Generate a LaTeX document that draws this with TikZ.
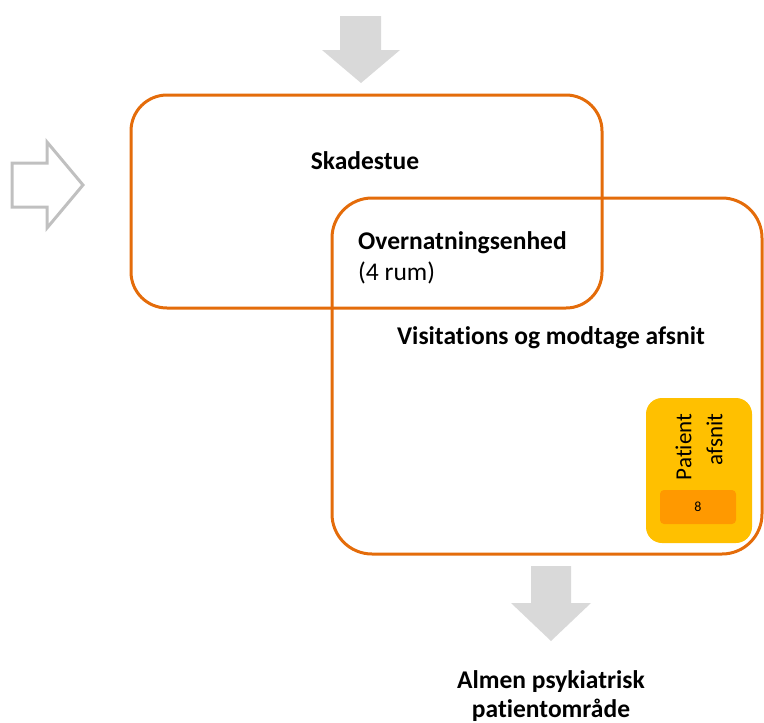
\documentclass[tikz,border=0pt]{standalone}
\usepackage{fontspec}
\setmainfont[Ligatures=NoCommon]{Carlito}
\definecolor{boxorange}{HTML}{E46C0A}
\definecolor{arrowgrey}{HTML}{D9D9D9}
\definecolor{outlinegrey}{HTML}{C0C0C0}
\definecolor{unitgold}{HTML}{FFC000}
\definecolor{unitcount}{HTML}{FF9900}
\begin{document}
\begin{tikzpicture}[x=1pt,y=-1pt,
  areabox/.style={draw=boxorange,line width=3pt,rounded corners=36pt},
  flowarrow/.style={fill=arrowgrey,draw=none},
  label/.style={font=\fontsize{25.5}{29}\selectfont\bfseries,text=black,inner sep=0pt},
  plain/.style={font=\fontsize{25.5}{29}\selectfont,text=black,inner sep=0pt}]
\useasboundingbox (0,0) rectangle (764,723);

% incoming arrow from above
\fill[flowarrow] (340,16) -- (381,16) -- (381,50) -- (400,50) -- (361,83)
  -- (322,50) -- (340,50) -- cycle;
% incoming arrow from the left (outline only)
\draw[draw=outlinegrey,line width=3pt,line join=miter]
  (12,163) -- (47,163) -- (47,142) -- (83,185) -- (47,228) -- (47,207)
  -- (12,207) -- cycle;

% emergency room and reception ward
\draw[areabox] (131,95) rectangle (602,308);
\draw[areabox,rounded corners=40pt] (332,198) rectangle (762,554);

\node[label] (skadestue) at (365,161) {Skadestue};
\node[label,anchor=west] (overnat) at (358,243) {Overnatningsenhed};
\node[plain,anchor=west] (rum) at (358,273) {(4 rum)};
\node[label] (visit) at (551,338) {Visitations og modtage afsnit};

% patient section with bed count
\fill[unitgold,rounded corners=16pt] (646,398) rectangle (752,543);
\fill[unitcount,rounded corners=4pt] (660,490) rectangle (736,524);
\node[plain,rotate=90,align=right,font=\fontsize{23}{31}\selectfont] (patient) at (699,447) {Patient\\afsnit};
\node[font=\fontsize{14}{16}\selectfont,inner sep=0pt] (beds) at (698,507) {8};

% outgoing arrow
\fill[flowarrow] (531,566) -- (571,566) -- (571,603) -- (591,603) -- (551,641)
  -- (511,603) -- (531,603) -- cycle;
\node[label] (almen) at (551,682) {Almen psykiatrisk};
\node[label] (almen2) at (551,710) {patientområde};
\end{tikzpicture}
\end{document}
